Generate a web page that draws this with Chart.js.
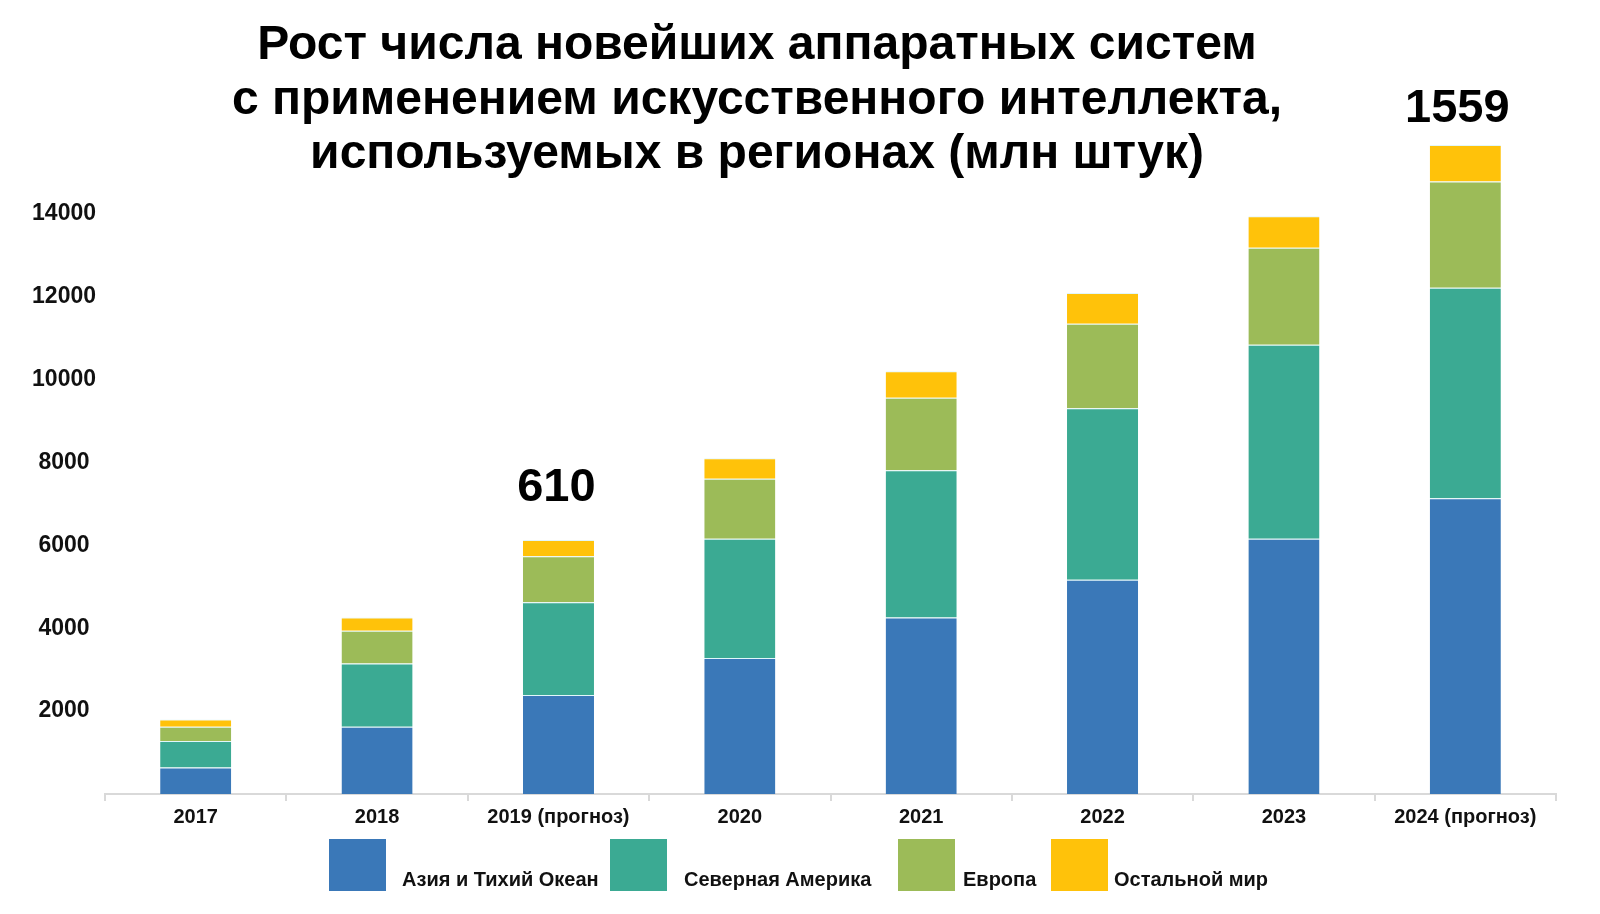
<!DOCTYPE html>
<html><head><meta charset="utf-8">
<script src="https://cdn.jsdelivr.net/npm/chart.js@4/dist/chart.umd.min.js"></script>
<style>html,body{margin:0;padding:0;background:#fff;overflow:hidden}#wrap{width:1600px;height:914px;position:relative}</style>
</head><body><div id="wrap"><canvas id="c" width="1600" height="914"></canvas></div>
<script>
const categories = ['2017','2018','2019 (прогноз)','2020','2021','2022','2023','2024 (прогноз)'];
const asiaPacific  = [640, 1625, 2390, 3280, 4260, 5170, 6160, 7140];
const northAmerica = [640, 1525, 2240, 2880, 3550, 4140, 4680, 5080];
const europe       = [345, 790, 1110, 1450, 1750, 2040, 2340, 2560];
const restOfWorld  = [175, 320, 390, 490, 640, 740, 760, 880];
const seriesNames  = ['Азия и Тихий Океан','Северная Америка','Европа','Остальной мир'];
const seriesColors = ['#3A78B8','#3BAA93','#9CBB58','#FFC20A'];
const yTicks = [2000, 4000, 6000, 8000, 10000, 12000, 14000];
const barNotes = ['', '', '610', '', '', '', '', '1559'];
const titleLines = ['Рост числа новейших аппаратных систем','с применением искусственного интеллекта,','используемых в регионах (млн штук)'];

const seriesValues = [asiaPacific, northAmerica, europe, restOfWorld];
const FONT = '"Liberation Sans", Arial, sans-serif';

const overlay = {
  id: 'overlay',
  afterDraw(chart) {
    const ctx = chart.ctx;
    ctx.save();
    // title
    ctx.fillStyle = '#000';
    ctx.textAlign = 'center';
    ctx.textBaseline = 'middle';
    ctx.font = 'bold 48px ' + FONT;
    const ty = [46, 101, 155];
    titleLines.forEach((t, i) => ctx.fillText(t, 757, ty[i]));
    // notes above bars
    const meta = chart.getDatasetMeta(chart.data.datasets.length - 1);
    const gaps = [20, 20, 28, 20, 20, 20, 20, 13];
    const shifts = [0, 0, -2, 0, 0, 0, 0, -8];
    ctx.font = 'bold 47px ' + FONT;
    ctx.textBaseline = 'bottom';
    barNotes.forEach((n, i) => {
      if (!n) return;
      const el = meta.data[i];
      ctx.fillText(n, el.x + shifts[i], el.y - gaps[i]);
    });
    // legend
    const boxX = [329, 610, 898, 1051];
    const textX = [402, 684, 963, 1114];
    ctx.font = 'bold 20px ' + FONT;
    ctx.textAlign = 'left';
    ctx.textBaseline = 'middle';
    chart.data.datasets.forEach((ds, i) => {
      ctx.fillStyle = ds.backgroundColor;
      ctx.fillRect(boxX[i], 839, 57, 52);
      ctx.fillStyle = '#111';
      ctx.fillText(ds.label, textX[i], 880);
    });
    ctx.restore();
  }
};

new Chart(document.getElementById('c'), {
  type: 'bar',
  data: {
    labels: categories,
    datasets: seriesNames.map((name, i) => ({
      label: name,
      data: seriesValues[i],
      backgroundColor: seriesColors[i],
      borderColor: 'rgba(200,240,245,0.55)',
      borderWidth: {top: 1, left: 0, right: 0, bottom: 0},
      borderSkipped: 'bottom',
      barPercentage: 0.8,
      categoryPercentage: 0.49
    }))
  },
  options: {
    responsive: false,
    devicePixelRatio: 1,
    animation: false,
    layout: { padding: { top: 131, right: 44, bottom: 0, left: 0 } },
    plugins: { legend: { display: false }, tooltip: { enabled: false }, title: { display: false } },
    scales: {
      x: {
        stacked: true,
        offset: true,
        grid: { display: true, drawOnChartArea: false, drawTicks: true, tickLength: 7, color: '#d9d9d9', lineWidth: 2 },
        border: { display: true, color: '#d9d9d9', width: 2 },
        ticks: { color: '#111', font: { family: FONT, size: 20, weight: 'bold' }, padding: 4, maxRotation: 0, autoSkip: false },
        afterFit: s => { s.height = 120; }
      },
      y: {
        stacked: true,
        min: 0,
        max: 16000,
        grid: { display: false },
        border: { display: false },
        afterBuildTicks: s => { s.ticks = yTicks.map(v => ({ value: v })); },
        ticks: { color: '#111', font: { family: FONT, size: 23, weight: 'bold' }, crossAlign: 'center', padding: 1,
                 callback: v => String(v) },
        afterFit: s => { s.width = 105; }
      }
    }
  },
  plugins: [overlay]
});
</script></body></html>
